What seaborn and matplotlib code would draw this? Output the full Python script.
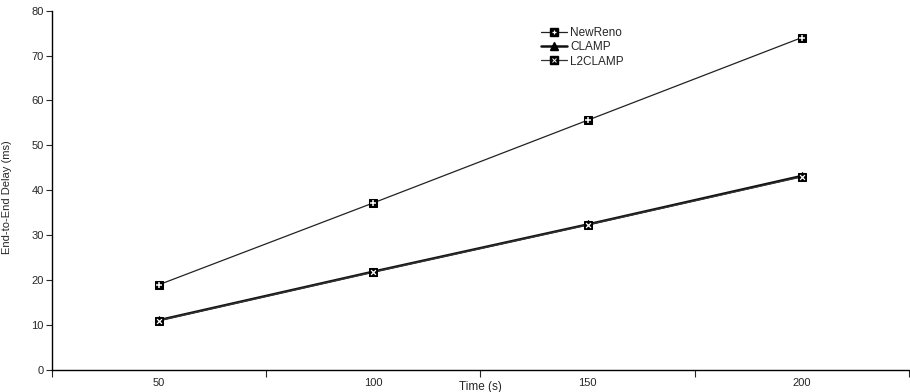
import pandas as pd
import matplotlib
matplotlib.use('Agg')
import matplotlib.pyplot as plt
import seaborn as sns
from matplotlib.lines import Line2D
from matplotlib.legend_handler import HandlerTuple

# values
times = ['50', '100', '150', '200']
newreno = [19.0, 37.2, 55.6, 74.0]
clamp = [11.1, 21.9, 32.4, 43.2]
l2clamp = [11.0, 21.8, 32.3, 43.0]
y_ticks = [0, 10, 20, 30, 40, 50, 60, 70, 80]

sns.set_style('white')
plt.rcParams['font.family'] = ['Liberation Sans', 'DejaVu Sans']

df = pd.DataFrame({'Time': times * 3,
                   'Delay': newreno + clamp + l2clamp,
                   'Protocol': ['NewReno'] * 4 + ['CLAMP'] * 4 + ['L2CLAMP'] * 4})

fig = plt.figure(figsize=(9.1, 3.92), dpi=100)
ax = fig.add_axes([0.057, 0.056, 0.942, 0.917])

styles = {
    'NewReno': dict(marker='s', lw=0.9, color='#222222', ms=5.5, over='+', over_ms=4.5, over_mew=1.1),
    'CLAMP': dict(marker='^', lw=1.8, color='#111111', ms=6, over=None),
    'L2CLAMP': dict(marker='s', lw=0.9, color='#333333', ms=5.5, over='x', over_ms=3.5, over_mew=0.9),
}

handles = []
for name in ['NewReno', 'CLAMP', 'L2CLAMP']:
    st = styles[name]
    sub = df[df['Protocol'] == name]
    sns.lineplot(data=sub, x='Time', y='Delay', ax=ax, color=st['color'], lw=st['lw'],
                 marker=st['marker'], markersize=st['ms'], markeredgecolor='black',
                 markerfacecolor='black', sort=False)
    h = Line2D([], [], color=st['color'], lw=st['lw'], marker=st['marker'], ms=st['ms'],
               mfc='black', mec='black')
    if st['over']:
        sns.scatterplot(data=sub, x='Time', y='Delay', ax=ax, marker=st['over'], color='white',
                        s=st['over_ms'] ** 2, linewidth=st['over_mew'], zorder=5)
        hw = Line2D([], [], ls='none', marker=st['over'], ms=st['over_ms'] - 1, mec='white',
                    mew=st['over_mew'] - 0.2)
        handles.append((h, hw))
    else:
        handles.append(h)

ax.set_xlim(-0.5, 3.5)
ax.set_ylim(0, 80)
ax.set_yticks(y_ticks)
ax.set_xticks([-0.5, 0.5, 1.5, 2.5, 3.5])
ax.set_xticklabels([])
ax.set_xticks(range(len(times)), minor=True)
ax.set_xticklabels(times, minor=True)
ax.tick_params(axis='x', which='major', direction='out', length=5, width=0.8, bottom=True)
ax.tick_params(axis='x', which='minor', length=0, pad=6, labelsize=8)
ax.tick_params(axis='y', direction='out', length=4, width=0.8, left=True, labelsize=8, pad=2)

for s in ['top', 'right']:
    ax.spines[s].set_visible(False)
for s in ['left', 'bottom']:
    ax.spines[s].set_color('black')
    ax.spines[s].set_linewidth(1.0)

ax.set_xlabel('Time (s)', fontsize=8.5)
ax.xaxis.set_label_coords(0.5, -0.03)
ax.set_ylabel('End-to-End Delay (ms)', fontsize=8)
ax.yaxis.set_label_coords(-0.046, 0.48)

ax.legend(handles, ['NewReno', 'CLAMP', 'L2CLAMP'], handler_map={tuple: HandlerTuple(ndivide=1)},
          loc='upper left', bbox_to_anchor=(0.565, 0.968), frameon=False, fontsize=8.5,
          handlelength=2.2, handletextpad=0.3, labelspacing=0.2, borderaxespad=0)

fig.savefig('out.png', dpi=100)
